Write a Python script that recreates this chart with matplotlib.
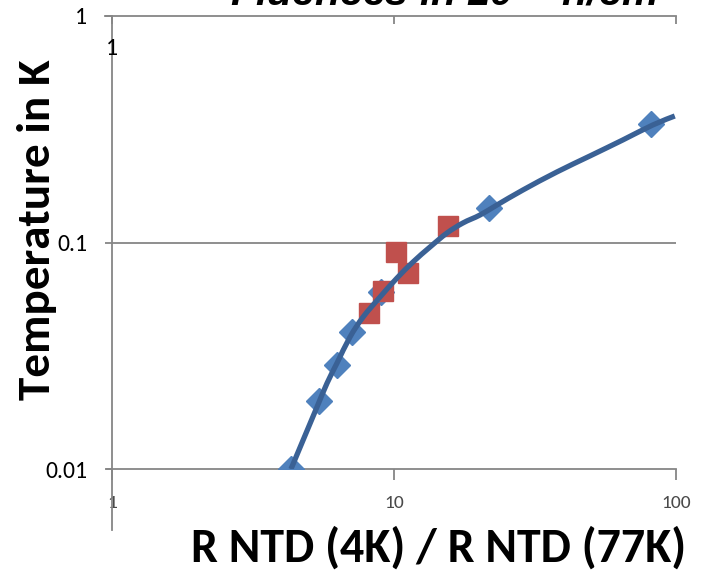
import numpy as np
import matplotlib.pyplot as plt
from matplotlib import font_manager
from matplotlib.path import Path
from matplotlib.patches import PathPatch

# blue diamonds (measured points)
x_blue = [4.31, 5.42, 6.28, 7.10, 9.0, 21.7, 81.5]
y_blue = [0.010, 0.020, 0.0288, 0.0403, 0.0605, 0.142, 0.334]

# red squares (irradiated samples)
x_red = [8.15, 9.14, 10.2, 11.2, 15.5]
y_red = [0.0489, 0.0611, 0.0908, 0.0733, 0.118]

# calibration curve, points
x_fit = [4.31, 4.76, 5.33, 5.79, 6.28, 6.98, 7.77, 8.92, 10.25, 11.68, 13.42,
         15.41, 17.57, 20.18, 23.19, 28.67, 37.84, 49.55, 64.88, 82.86, 99.2]
y_fit = [0.0100, 0.01343, 0.01878, 0.02397, 0.02938, 0.03826, 0.0469, 0.05746,
         0.0697, 0.08202, 0.09552, 0.1101, 0.122, 0.1322, 0.1464, 0.1705,
         0.2048, 0.2409, 0.2836, 0.3302, 0.3618]

xticks = [1, 10, 100]
xtick_labels = ['1', '10', '100']
yticks = [0.01, 0.1, 1]
ytick_labels = ['0.01', '0.1', '1']

grey = '#868686'


def pick_font(names):
    for n in names:
        try:
            font_manager.findfont(n, fallback_to_default=False)
            return n
        except Exception:
            pass
    return 'DejaVu Sans'


fam = pick_font(['Carlito', 'Liberation Sans Narrow', 'Roboto Condensed',
                 'Liberation Sans'])
font = [fam, 'DejaVu Sans']

fig = plt.figure(figsize=(7.01, 5.70), dpi=100)
ax = fig.add_axes([0.160, 0.177, 0.804, 0.795])
ax.set_xscale('log')
ax.set_yscale('log')
ax.set_xlim(1, 100)
ax.set_ylim(0.01, 1)

ax.axhline(0.1, color=grey, lw=1.3, zorder=1)

ax.plot(x_blue, y_blue, 'D', color='#4F81BD', ms=13, mec='#4F81BD', zorder=3)
ax.plot(x_red, y_red, 's', color='#C0504D', ms=14, mec='#C0504D', zorder=3.5)

# smooth the curve like the spreadsheet does (Catmull-Rom as Bezier, log space)
P = np.column_stack([np.log10(x_fit), np.log10(y_fit)])
Pe = np.vstack([P[0], P, P[-1]])
verts = [P[0]]
codes = [Path.MOVETO]
for i in range(len(P) - 1):
    p0, p1, p2, p3 = Pe[i], Pe[i + 1], Pe[i + 2], Pe[i + 3]
    verts += [p1 + (p2 - p0) / 6, p2 - (p3 - p1) / 6, p2]
    codes += [Path.CURVE4] * 3
verts = 10 ** np.array(verts)
curve = PathPatch(Path(verts, codes), fill=False, ec='#3A6195', lw=3.8,
                  zorder=4, capstyle='butt', transform=ax.transData)
ax.add_patch(curve)

ax.spines['right'].set_visible(False)
for s in ['left', 'top', 'bottom']:
    ax.spines[s].set_color(grey)
    ax.spines[s].set_linewidth(1.3)
ax.spines['left'].set_bounds(0.0054, 1)
ax.spines['top'].set_bounds(0.94, 100)
ax.spines['bottom'].set_bounds(0.96, 100)

ax.set_xticks(xticks)
ax.set_xticklabels(xtick_labels, family=font, fontsize=14, color='#4a4a4a')
ax.set_yticks(yticks)
ax.set_yticklabels(ytick_labels, family=font, fontsize=17)
ax.minorticks_off()
ax.tick_params(axis='x', which='both', direction='out', length=8, width=1.3,
               color=grey, pad=11)
ax.tick_params(axis='y', which='both', direction='out', length=5, width=1.3,
               color=grey, pad=13)

# top axis: ticks pointing down into the plot, no labels
top = ax.secondary_xaxis('top')
top.set_xticks(xticks)
top.minorticks_off()
top.tick_params(direction='in', length=6, width=1.3, color=grey,
                labeltop=False)
top.spines['top'].set_visible(False)

ax.text(1, 0.722, '1', family=font, fontsize=17, ha='center', va='center')

xl = ax.set_xlabel('R NTD (4K) / R NTD (77K)', family=font, fontsize=29,
                   fontweight='bold', va='center')
ax.xaxis.set_label_coords(0.580, -0.174)
yl = ax.set_ylabel('Temperature in K', family=font, fontsize=29,
                   fontweight='bold', va='center')
ax.yaxis.set_label_coords(-0.133, 0.528)

fig.text(230 / 701, 1 - 5 / 570, 'Fluences in 10$^{18}$ n/cm$^2$',
         ha='left', va='baseline', fontsize=29.5, fontweight='bold',
         style='italic', family=['Liberation Sans', 'DejaVu Sans'], zorder=10)

# fit the axis titles to the sizes they have in the picture
fig.canvas.draw()
r = fig.canvas.get_renderer()
for t, target, horiz in [(xl, 495, True), (yl, 340, False)]:
    bb = t.get_window_extent(r)
    size = bb.width if horiz else bb.height
    t.set_fontsize(t.get_fontsize() * target / size)

fig.savefig('out.png', dpi=100)
